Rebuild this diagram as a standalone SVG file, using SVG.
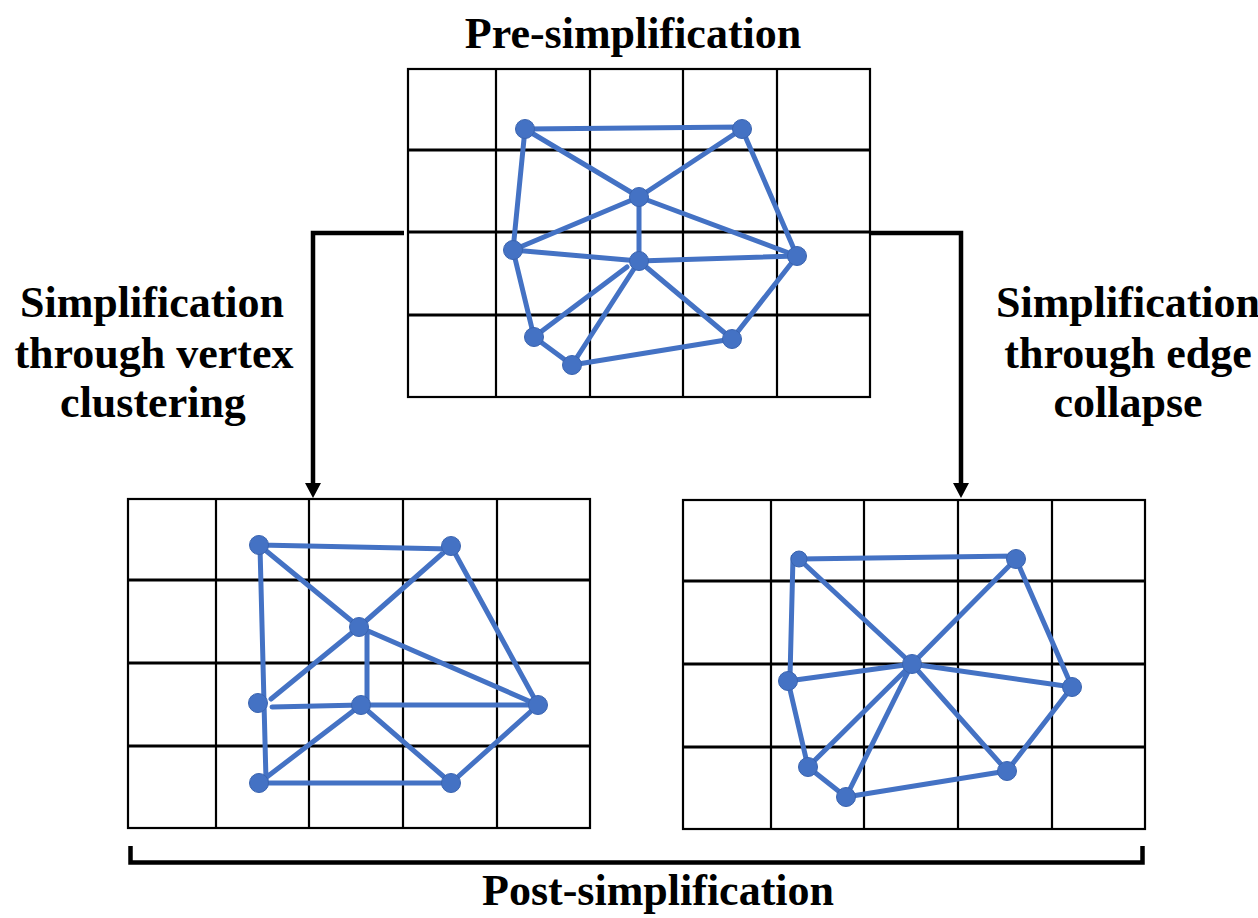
<svg xmlns="http://www.w3.org/2000/svg" width="1258" height="918" viewBox="0 0 1258 918">
<style>
.bg{fill:#ffffff}
.gv{stroke:#000;stroke-width:2.2;fill:none}
.gh{stroke:#000;stroke-width:3;fill:none}
.frame{stroke:#000;stroke-width:2.2;fill:#fff}
.e{stroke:#4472C4;stroke-width:5;stroke-linecap:round;fill:none}
.n{fill:#4472C4;stroke:#3A64B0;stroke-width:1}
.conn{stroke:#000;stroke-width:4.5;fill:none}
.head{fill:#000}
.t{font-family:"Liberation Serif","Times New Roman",serif;font-weight:bold;font-size:44px;fill:#000;text-anchor:middle}
</style>
<rect class="bg" x="0" y="0" width="1258" height="918"/>

<!-- Top grid (pre-simplification) -->
<g id="grid-top">
<rect class="frame" x="408" y="69" width="462" height="328"/>
<path class="gv" d="M496,69V397M590,69V397M683,69V397M777,69V397"/>
<path class="gh" d="M408,150H870M408,232H870M408,315H870"/>
<g id="mesh-top">
<path class="e" d="M525,129L742,127M525,129L639,197M525,129L513,250M742,129L639,197M742,129L797,256M639,197L513,250M639,197L639,261M639,197L797,256M513,250L639,261M639,261L797,256M513,250L534,337M534,337L627,267M639,261L572,365M639,261L732,339M534,337L572,365M572,365L732,339M797,256L732,339"/>
<circle class="n" cx="525" cy="129" r="9.5"/>
<circle class="n" cx="742" cy="129" r="9.5"/>
<circle class="n" cx="639" cy="197" r="9.5"/>
<circle class="n" cx="513" cy="250" r="9.5"/>
<circle class="n" cx="639" cy="261" r="9.5"/>
<circle class="n" cx="797" cy="256" r="9.5"/>
<circle class="n" cx="534" cy="337" r="9.5"/>
<circle class="n" cx="572" cy="365" r="9.5"/>
<circle class="n" cx="732" cy="339" r="9.5"/>
</g>
</g>

<!-- Bottom-left grid (vertex clustering) -->
<g id="grid-left">
<rect class="frame" x="128" y="499" width="462" height="329"/>
<path class="gv" d="M216,499V828M309,499V828M403,499V828M497,499V828"/>
<path class="gh" d="M128,580H590M128,663H590M128,746H590"/>
<g id="mesh-left">
<path class="e" d="M259,545L451,549M259,545L359,627M260,547L266,780M451,546L359,627M451,546L538,705M359,627L271,699M367,633L367,703M359,627L538,705M272,707L361,705M361,705L538,705M361,705L259,783M361,705L451,783M259,783L451,783M451,783L538,705"/>
<circle class="n" cx="259" cy="545" r="9.5"/>
<circle class="n" cx="451" cy="546" r="9.5"/>
<circle class="n" cx="359" cy="627" r="9.5"/>
<circle class="n" cx="258" cy="703" r="9.5"/>
<circle class="n" cx="361" cy="705" r="9.5"/>
<circle class="n" cx="538" cy="705" r="9.5"/>
<circle class="n" cx="259" cy="783" r="9.5"/>
<circle class="n" cx="451" cy="783" r="9.5"/>
</g>
</g>

<!-- Bottom-right grid (edge collapse) -->
<g id="grid-right">
<rect class="frame" x="683" y="500" width="462" height="329"/>
<path class="gv" d="M771,500V829M864,500V829M958,500V829M1052,500V829"/>
<path class="gh" d="M683,581H1145M683,664H1145M683,747H1145"/>
<g id="mesh-right">
<path class="e" d="M799,559L1016,556M799,559L912,664M793,557L790,677M1016,559L912,664M1016,559L1072,687M912,664L788,681M912,664L1072,687M912,664L808,767M912,664L846,797M912,664L1007,771M788,681L808,767M808,767L846,797M846,797L1007,771M1007,771L1072,687"/>
<circle class="n" cx="799" cy="559" r="8"/>
<circle class="n" cx="1016" cy="559" r="9.5"/>
<circle class="n" cx="912" cy="664" r="9.5"/>
<circle class="n" cx="788" cy="681" r="9.5"/>
<circle class="n" cx="1072" cy="687" r="9.5"/>
<circle class="n" cx="808" cy="767" r="9.5"/>
<circle class="n" cx="846" cy="797" r="9.5"/>
<circle class="n" cx="1007" cy="771" r="9.5"/>
</g>
</g>

<!-- Connectors -->
<g id="connectors">
<path class="conn" d="M404,233H313V485"/>
<polygon class="head" points="305,483 321,483 313,498"/>
<path class="conn" d="M869,233H961V485"/>
<polygon class="head" points="953,483 969,483 961,498"/>
<path class="conn" d="M130.5,846V862.5H1142.5V846" stroke-width="6"/>
</g>

<!-- Labels -->
<g id="labels">
<text class="t" x="633" y="48">Pre-simplification</text>
<text class="t" x="152" y="317">Simplification</text>
<text class="t" x="154" y="368">through vertex</text>
<text class="t" x="153" y="417">clustering</text>
<text class="t" x="1128" y="317">Simplification</text>
<text class="t" x="1128" y="368">through edge</text>
<text class="t" x="1128" y="417">collapse</text>
<text class="t" x="658" y="905">Post-simplification</text>
</g>
</svg>
